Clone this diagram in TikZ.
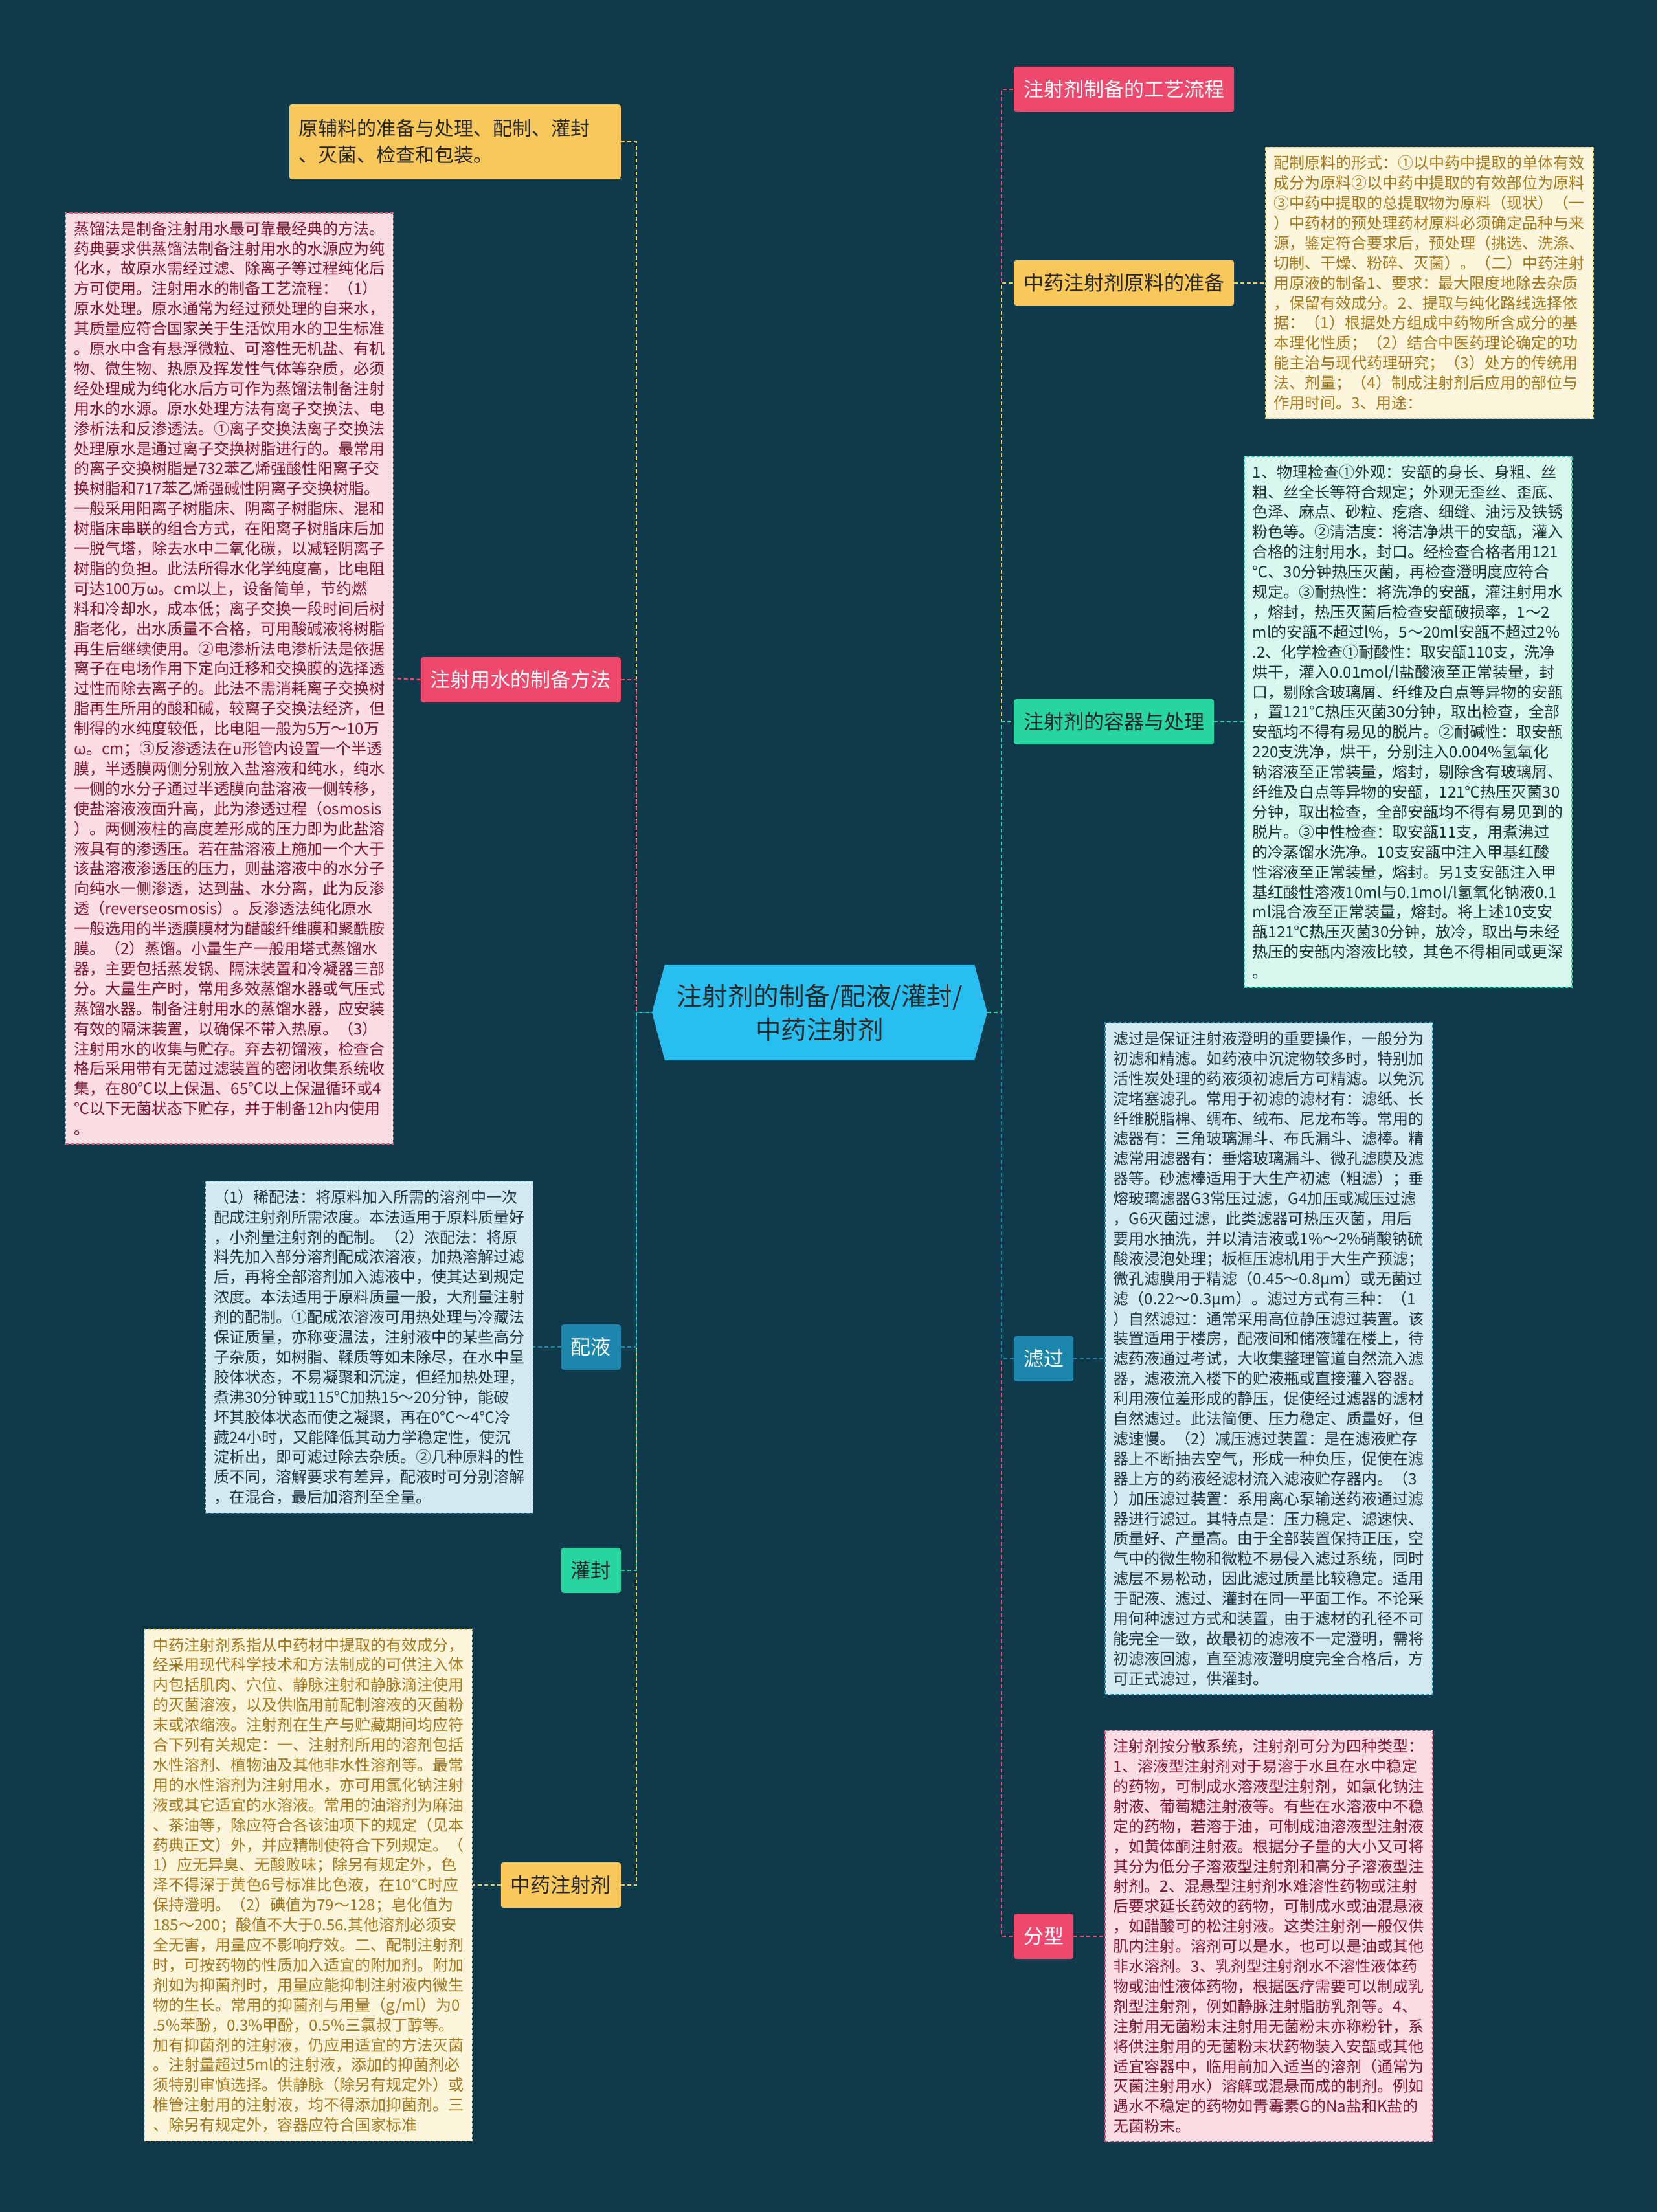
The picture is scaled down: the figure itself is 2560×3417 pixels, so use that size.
\documentclass[tikz,border=0pt]{standalone}
\usepackage{fontspec}
\setmainfont{Noto Sans CJK SC}
\usetikzlibrary{shapes.symbols}
\definecolor{bgc}{RGB}{15,58,75}
\definecolor{cY}{RGB}{248,201,90}
\definecolor{cP}{RGB}{238,72,108}
\definecolor{cB}{RGB}{29,134,173}
\definecolor{cG}{RGB}{38,213,160}
\definecolor{cC}{RGB}{41,190,240}
\definecolor{bP}{RGB}{252,221,228}
\definecolor{bY}{RGB}{253,245,220}
\definecolor{bG}{RGB}{215,247,239}
\definecolor{bB}{RGB}{211,233,242}
\definecolor{tP}{RGB}{128,24,48}
\definecolor{tY}{RGB}{165,120,28}
\definecolor{tG}{RGB}{30,52,52}
\definecolor{tB}{RGB}{31,56,68}
\definecolor{tD}{RGB}{40,40,40}
\tikzset{
  lbl/.style={rounded corners=4pt, font=\fontsize{31}{40}\selectfont, minimum height=70pt, inner xsep=15pt, inner ysep=0pt},
  lY/.style={lbl, fill=cY, text=tD},
  lP/.style={lbl, fill=cP, text=white},
  lB/.style={lbl, fill=cB, text=white},
  lG/.style={lbl, fill=cG, text=tD},
  blk/.style={dashed, dash pattern=on 5pt off 3pt, line width=1.5pt, align=left, inner xsep=13pt, inner ysep=13pt, font=\fontsize{24}{30.9}\selectfont, text width=480pt},
  conn/.style={line width=2.5pt, dash pattern=on 6pt off 4pt},
}
\begin{document}
\begin{tikzpicture}[x=1pt,y=-1pt]
\fill[bgc] (0,0) rectangle (2560,3417);
\useasboundingbox (0,0) rectangle (2560,3417);

% central node
\node[shape=signal, signal to=west and east, signal pointer angle=150, fill=cC, text=tD,
  minimum width=518pt, minimum height=148pt, inner sep=0pt, align=center,
  font=\fontsize{39.5}{52}\selectfont] (c) at (1266,1564) {注射剂的制备/配液/灌封/\\中药注射剂};
\coordinate (jl) at (983,1564);
\coordinate (jr) at (1547,1564);

% left labels
\node[lY, anchor=east, align=left, text width=482pt, inner xsep=15pt, minimum height=116pt, font=\fontsize{30}{41}\selectfont] (l1) at (959,219) {原辅料的准备与处理、配制、灌封\\、灭菌、检查和包装。};
\node[lP, anchor=east] (l2) at (959,1050) {注射用水的制备方法};
\node[lB, anchor=east] (l3) at (959,2081) {配液};
\node[lG, anchor=east] (l4) at (959,2426) {灌封};
\node[lY, anchor=east] (l5) at (959,2912) {中药注射剂};

% right labels
\node[lP, anchor=west] (r1) at (1566,138) {注射剂制备的工艺流程};
\node[lY, anchor=west] (r2) at (1566,437) {中药注射剂原料的准备};
\node[lG, anchor=west] (r3) at (1566,1115) {注射剂的容器与处理};
\node[lB, anchor=west] (r4) at (1566,2099) {滤过};
\node[lP, anchor=west] (r5) at (1566,2991) {分型};

% blocks
\node[blk, fill=bP, draw=cP, text=tP, anchor=east] (b2) at (608,1048) {蒸馏法是制备注射用水最可靠最经典的方法。\\
药典要求供蒸馏法制备注射用水的水源应为纯\\
化水，故原水需经过滤、除离子等过程纯化后\\
方可使用。注射用水的制备工艺流程：（1）\\
原水处理。原水通常为经过预处理的自来水，\\
其质量应符合国家关于生活饮用水的卫生标准\\
。原水中含有悬浮微粒、可溶性无机盐、有机\\
物、微生物、热原及挥发性气体等杂质，必须\\
经处理成为纯化水后方可作为蒸馏法制备注射\\
用水的水源。原水处理方法有离子交换法、电\\
渗析法和反渗透法。①离子交换法离子交换法\\
处理原水是通过离子交换树脂进行的。最常用\\
的离子交换树脂是732苯乙烯强酸性阳离子交\\
换树脂和717苯乙烯强碱性阴离子交换树脂。\\
一般采用阳离子树脂床、阴离子树脂床、混和\\
树脂床串联的组合方式，在阳离子树脂床后加\\
一脱气塔，除去水中二氧化碳，以减轻阴离子\\
树脂的负担。此法所得水化学纯度高，比电阻\\
可达100万ω。cm以上，设备简单，节约燃\\
料和冷却水，成本低；离子交换一段时间后树\\
脂老化，出水质量不合格，可用酸碱液将树脂\\
再生后继续使用。②电渗析法电渗析法是依据\\
离子在电场作用下定向迁移和交换膜的选择透\\
过性而除去离子的。此法不需消耗离子交换树\\
脂再生所用的酸和碱，较离子交换法经济，但\\
制得的水纯度较低，比电阻一般为5万～10万\\
ω。cm；③反渗透法在u形管内设置一个半透\\
膜，半透膜两侧分别放入盐溶液和纯水，纯水\\
一侧的水分子通过半透膜向盐溶液一侧转移，\\
使盐溶液液面升高，此为渗透过程（osmosis\\
）。两侧液柱的高度差形成的压力即为此盐溶\\
液具有的渗透压。若在盐溶液上施加一个大于\\
该盐溶液渗透压的压力，则盐溶液中的水分子\\
向纯水一侧渗透，达到盐、水分离，此为反渗\\
透（reverseosmosis）。反渗透法纯化原水\\
一般选用的半透膜膜材为醋酸纤维膜和聚酰胺\\
膜。（2）蒸馏。小量生产一般用塔式蒸馏水\\
器，主要包括蒸发锅、隔沫装置和冷凝器三部\\
分。大量生产时，常用多效蒸馏水器或气压式\\
蒸馏水器。制备注射用水的蒸馏水器，应安装\\
有效的隔沫装置，以确保不带入热原。（3）\\
注射用水的收集与贮存。弃去初馏液，检查合\\
格后采用带有无菌过滤装置的密闭收集系统收\\
集，在80℃以上保温、65℃以上保温循环或4\\
℃以下无菌状态下贮存，并于制备12h内使用\\
。};

\node[blk, fill=bB, draw=cB, text=tB, anchor=east] (b3) at (824,2081) {（1）稀配法：将原料加入所需的溶剂中一次\\
配成注射剂所需浓度。本法适用于原料质量好\\
，小剂量注射剂的配制。（2）浓配法：将原\\
料先加入部分溶剂配成浓溶液，加热溶解过滤\\
后，再将全部溶剂加入滤液中，使其达到规定\\
浓度。本法适用于原料质量一般，大剂量注射\\
剂的配制。①配成浓溶液可用热处理与冷藏法\\
保证质量，亦称变温法，注射液中的某些高分\\
子杂质，如树脂、鞣质等如未除尽，在水中呈\\
胶体状态，不易凝聚和沉淀，但经加热处理，\\
煮沸30分钟或115℃加热15～20分钟，能破\\
坏其胶体状态而使之凝聚，再在0℃～4℃冷\\
藏24小时，又能降低其动力学稳定性，使沉\\
淀析出，即可滤过除去杂质。②几种原料的性\\
质不同，溶解要求有差异，配液时可分别溶解\\
，在混合，最后加溶剂至全量。};

\node[blk, fill=bY, draw=cY, text=tY, anchor=east] (b5) at (730,2912) {中药注射剂系指从中药材中提取的有效成分，\\
经采用现代科学技术和方法制成的可供注入体\\
内包括肌肉、穴位、静脉注射和静脉滴注使用\\
的灭菌溶液，以及供临用前配制溶液的灭菌粉\\
末或浓缩液。注射剂在生产与贮藏期间均应符\\
合下列有关规定：一、注射剂所用的溶剂包括\\
水性溶剂、植物油及其他非水性溶剂等。最常\\
用的水性溶剂为注射用水，亦可用氯化钠注射\\
液或其它适宜的水溶液。常用的油溶剂为麻油\\
、茶油等，除应符合各该油项下的规定（见本\\
药典正文）外，并应精制使符合下列规定。（\\
1）应无异臭、无酸败味；除另有规定外，色\\
泽不得深于黄色6号标准比色液，在10℃时应\\
保持澄明。（2）碘值为79～128；皂化值为\\
185～200；酸值不大于0.56.其他溶剂必须安\\
全无害，用量应不影响疗效。二、配制注射剂\\
时，可按药物的性质加入适宜的附加剂。附加\\
剂如为抑菌剂时，用量应能抑制注射液内微生\\
物的生长。常用的抑菌剂与用量（g/ml）为0\\
.5\%苯酚，0.3\%甲酚，0.5\%三氯叔丁醇等。\\
加有抑菌剂的注射液，仍应用适宜的方法灭菌\\
。注射量超过5ml的注射液，添加的抑菌剂必\\
须特别审慎选择。供静脉（除另有规定外）或\\
椎管注射用的注射液，均不得添加抑菌剂。三\\
、除另有规定外，容器应符合国家标准};

\node[blk, fill=bY, draw=cY, text=tY, anchor=west] (b6) at (1954,437) {配制原料的形式：①以中药中提取的单体有效\\
成分为原料②以中药中提取的有效部位为原料\\
③中药中提取的总提取物为原料（现状）（一\\
）中药材的预处理药材原料必须确定品种与来\\
源，鉴定符合要求后，预处理（挑选、洗涤、\\
切制、干燥、粉碎、灭菌）。（二）中药注射\\
用原液的制备1、要求：最大限度地除去杂质\\
，保留有效成分。2、提取与纯化路线选择依\\
据：（1）根据处方组成中药物所含成分的基\\
本理化性质；（2）结合中医药理论确定的功\\
能主治与现代药理研究；（3）处方的传统用\\
法、剂量；（4）制成注射剂后应用的部位与\\
作用时间。3、用途：};

\node[blk, fill=bG, draw=cG, text=tG, anchor=west] (b7) at (1921,1115) {1、物理检查①外观：安瓿的身长、身粗、丝\\
粗、丝全长等符合规定；外观无歪丝、歪底、\\
色泽、麻点、砂粒、疙瘩、细缝、油污及铁锈\\
粉色等。②清洁度：将洁净烘干的安瓿，灌入\\
合格的注射用水，封口。经检查合格者用121\\
℃、30分钟热压灭菌，再检查澄明度应符合\\
规定。③耐热性：将洗净的安瓿，灌注射用水\\
，熔封，热压灭菌后检查安瓿破损率，1～2\\
ml的安瓿不超过l\%，5～20ml安瓿不超过2\%\\
.2、化学检查①耐酸性：取安瓿110支，洗净\\
烘干，灌入0.01mol/l盐酸液至正常装量，封\\
口，剔除含玻璃屑、纤维及白点等异物的安瓿\\
，置121℃热压灭菌30分钟，取出检查，全部\\
安瓿均不得有易见的脱片。②耐碱性：取安瓿\\
220支洗净，烘干，分别注入0.004\%氢氧化\\
钠溶液至正常装量，熔封，剔除含有玻璃屑、\\
纤维及白点等异物的安瓿，121℃热压灭菌30\\
分钟，取出检查，全部安瓿均不得有易见到的\\
脱片。③中性检查：取安瓿11支，用煮沸过\\
的冷蒸馏水洗净。10支安瓿中注入甲基红酸\\
性溶液至正常装量，熔封。另1支安瓿注入甲\\
基红酸性溶液10ml与0.1mol/l氢氧化钠液0.1\\
ml混合液至正常装量，熔封。将上述10支安\\
瓿121℃热压灭菌30分钟，放冷，取出与未经\\
热压的安瓿内溶液比较，其色不得相同或更深\\
。};

\node[blk, fill=bB, draw=cB, text=tB, anchor=west] (b8) at (1706,2099) {滤过是保证注射液澄明的重要操作，一般分为\\
初滤和精滤。如药液中沉淀物较多时，特别加\\
活性炭处理的药液须初滤后方可精滤。以免沉\\
淀堵塞滤孔。常用于初滤的滤材有：滤纸、长\\
纤维脱脂棉、绸布、绒布、尼龙布等。常用的\\
滤器有：三角玻璃漏斗、布氏漏斗、滤棒。精\\
滤常用滤器有：垂熔玻璃漏斗、微孔滤膜及滤\\
器等。砂滤棒适用于大生产初滤（粗滤）；垂\\
熔玻璃滤器G3常压过滤，G4加压或减压过滤\\
，G6灭菌过滤，此类滤器可热压灭菌，用后\\
要用水抽洗，并以清洁液或1\%～2\%硝酸钠硫\\
酸液浸泡处理；板框压滤机用于大生产预滤；\\
微孔滤膜用于精滤（0.45～0.8μm）或无菌过\\
滤（0.22～0.3μm）。滤过方式有三种：（1\\
）自然滤过：通常采用高位静压滤过装置。该\\
装置适用于楼房，配液间和储液罐在楼上，待\\
滤药液通过考试，大收集整理管道自然流入滤\\
器，滤液流入楼下的贮液瓶或直接灌入容器。\\
利用液位差形成的静压，促使经过滤器的滤材\\
自然滤过。此法简便、压力稳定、质量好，但\\
滤速慢。（2）减压滤过装置：是在滤液贮存\\
器上不断抽去空气，形成一种负压，促使在滤\\
器上方的药液经滤材流入滤液贮存器内。（3\\
）加压滤过装置：系用离心泵输送药液通过滤\\
器进行滤过。其特点是：压力稳定、滤速快、\\
质量好、产量高。由于全部装置保持正压，空\\
气中的微生物和微粒不易侵入滤过系统，同时\\
滤层不易松动，因此滤过质量比较稳定。适用\\
于配液、滤过、灌封在同一平面工作。不论采\\
用何种滤过方式和装置，由于滤材的孔径不可\\
能完全一致，故最初的滤液不一定澄明，需将\\
初滤液回滤，直至滤液澄明度完全合格后，方\\
可正式滤过，供灌封。};

\node[blk, fill=bP, draw=cP, text=tP, anchor=west] (b9) at (1706,2991) {注射剂按分散系统，注射剂可分为四种类型：\\
1、溶液型注射剂对于易溶于水且在水中稳定\\
的药物，可制成水溶液型注射剂，如氯化钠注\\
射液、葡萄糖注射液等。有些在水溶液中不稳\\
定的药物，若溶于油，可制成油溶液型注射液\\
，如黄体酮注射液。根据分子量的大小又可将\\
其分为低分子溶液型注射剂和高分子溶液型注\\
射剂。2、混悬型注射剂水难溶性药物或注射\\
后要求延长药效的药物，可制成水或油混悬液\\
，如醋酸可的松注射液。这类注射剂一般仅供\\
肌内注射。溶剂可以是水，也可以是油或其他\\
非水溶剂。3、乳剂型注射剂水不溶性液体药\\
物或油性液体药物，根据医疗需要可以制成乳\\
剂型注射剂，例如静脉注射脂肪乳剂等。4、\\
注射用无菌粉末注射用无菌粉末亦称粉针，系\\
将供注射用的无菌粉末状药物装入安瓿或其他\\
适宜容器中，临用前加入适当的溶剂（通常为\\
灭菌注射用水）溶解或混悬而成的制剂。例如\\
遇水不稳定的药物如青霉素G的Na盐和K盐的\\
无菌粉末。};

% connectors center -> labels
\draw[conn, cY] (l1.east) -| (jl) -- (c.west);
\draw[conn, cP] (l2.east) -| (jl) -- (c.west);
\draw[conn, cY] (l5.east) -| (jl) -- (c.west);
\draw[conn, cG] (l4.east) -| (jl) -- (c.west);
\draw[conn, cB] (l3.east) -| (jl) -- (c.west);
\draw[conn, cP] (c.east) -- (jr) |- (r1.west);
\draw[conn, cY] (c.east) -- (jr) |- (r2.west);
\draw[conn, cP] (c.east) -- (jr) |- (r5.west);
\draw[conn, cB] (c.east) -- (jr) |- (r4.west);
\draw[conn, cG] (c.east) -- (jr) |- (r3.west);

% connectors labels -> blocks
\draw[conn, cP] (l2.west) -- (b2.east);
\draw[conn, cB] (l3.west) -- (b3.east);
\draw[conn, cY] (l5.west) -- (b5.east);
\draw[conn, cY] (r2.east) -- (b6.west);
\draw[conn, cG] (r3.east) -- (b7.west);
\draw[conn, cB] (r4.east) -- (b8.west);
\draw[conn, cP] (r5.east) -- (b9.west);
\end{tikzpicture}
\end{document}
